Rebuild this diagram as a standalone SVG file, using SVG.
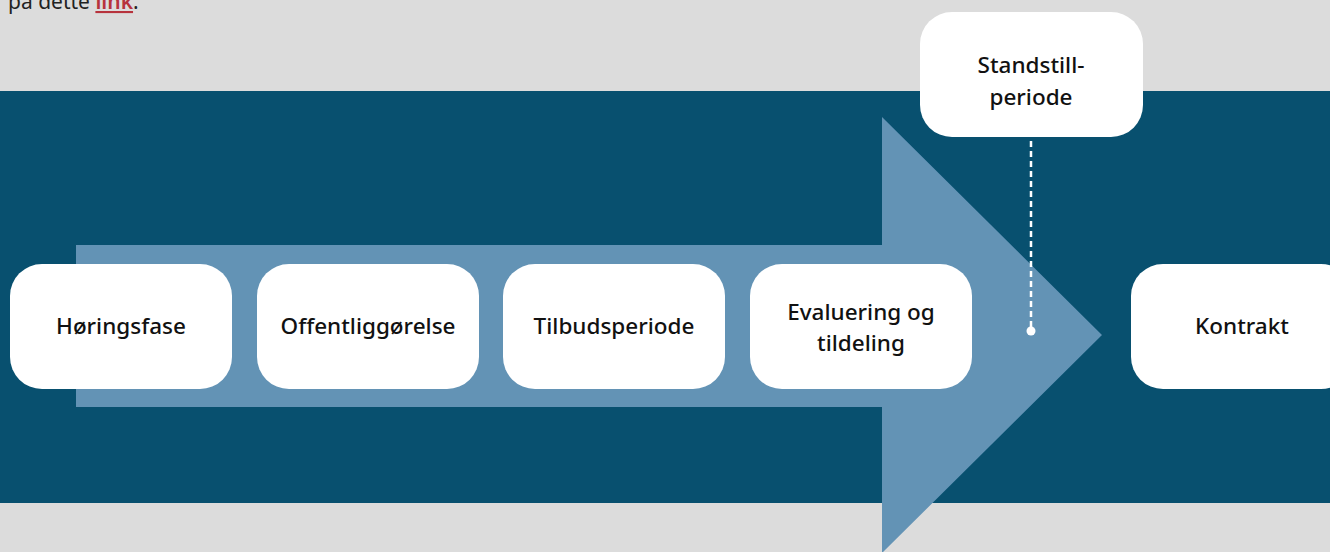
<svg xmlns="http://www.w3.org/2000/svg" width="1330" height="552" viewBox="0 0 1330 552">
<style>
.node rect{fill:#fff}
.node text{font-family:"Noto Sans","Open Sans",sans-serif;font-size:22.5px;font-weight:500;fill:#111;text-anchor:middle}
.top{font-family:"Noto Sans","Open Sans",sans-serif;font-size:21px;fill:#222}
</style>
<rect x="0" y="0" width="1330" height="552" fill="#dcdcdc"/>
<text class="top" x="8" y="9">på dette <tspan fill="#b7333d" font-weight="600" text-decoration="underline">link</tspan>.</text>
<rect x="0" y="91" width="1330" height="412" fill="#08506f"/>
<polygon points="76,245 882,245 882,117 1102,335 882,553 882,407 76,407" fill="#6393b5"/>
<g id="connectors">
<line x1="1031" y1="141" x2="1031" y2="328" stroke="#fff" stroke-width="2.5" stroke-dasharray="6,4"/>
<circle cx="1031" cy="331" r="4.5" fill="#fff"/>
</g>
<g id="n1" class="node"><rect x="10" y="264" width="222" height="125" rx="32"/><text x="121" y="334">Høringsfase</text></g>
<g id="n2" class="node"><rect x="257" y="264" width="222" height="125" rx="32"/><text x="368" y="334">Offentliggørelse</text></g>
<g id="n3" class="node"><rect x="503" y="264" width="222" height="125" rx="32"/><text x="614" y="334">Tilbudsperiode</text></g>
<g id="n4" class="node"><rect x="750" y="264" width="222" height="125" rx="32"/><text x="861" y="320">Evaluering og</text><text x="861" y="351">tildeling</text></g>
<g id="n5" class="node"><rect x="1131" y="264" width="222" height="125" rx="32"/><text x="1242" y="334">Kontrakt</text></g>
<g id="n6" class="node"><rect x="920" y="12" width="223" height="125" rx="32"/><text x="1031" y="73">Standstill-</text><text x="1031" y="105">periode</text></g>
</svg>
